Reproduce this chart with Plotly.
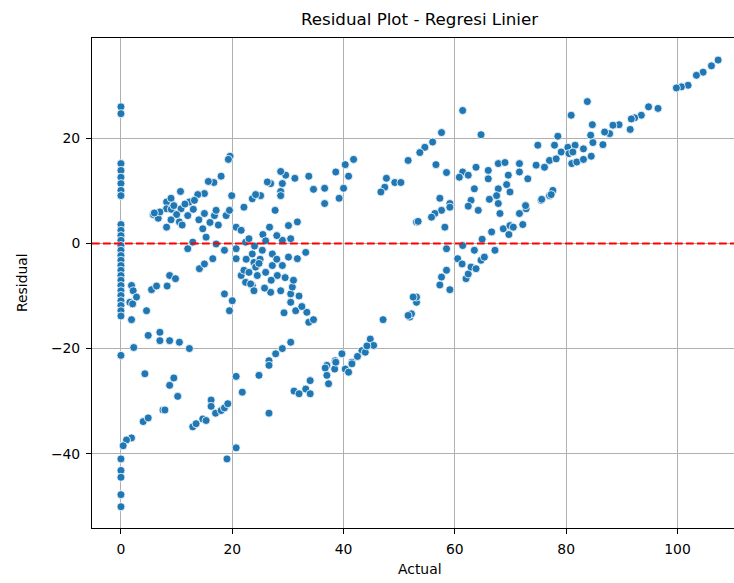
import plotly.graph_objects as go

# Actual values and residuals of the linear regression model
actual = [
    # actual == 0
    0, 0, 0, 0, 0, 0, 0, 0, 0, 0, 0, 0, 0, 0, 0, 0, 0, 0, 0, 0, 0, 0, 0, 0, 0, 0, 0, 0, 0, 0, 0, 0, 0,
    # low actual values
    1.9, 2.2, 2.8, 1.6, 2.1, 1.9, 4.6, 5.5, 6.4, 8.3, 8.75, 9.8, 4.9, 7, 7, 8.75, 10.5, 12.3, 2.3,
    4.3, 9.5, 8.75, 10.2, 7.55, 7.9, 4, 4.9, 1.9, 1, 0.4, 12.9, 13.5, 14.7, 15.3, 16.2, 16.2, 17,
    18, 18.6, 19.2, 20.7, 21.8, 20.7, 19.05,
    19.6, 19.3, 18, 16.7, 15.7, 15, 13.8, 10.7, 19.9, 12.3, 13.2, 8.2, 9, 23.6, 5.8, 6.7, 8.2, 8.2,
    9.05, 10.5, 10.8, 12, 15, 14.7, 15.3, 16.8, 17.1, 18.9, 19.5, 20.7, 21.6, 22.1, 22.4, 23, 12,
    12.9, 14.1, 15, 16.5, 17.1, 18.6, 20.7, 20.7, 21.6, 22.1, 22.4, 23, 23.9, 23.6, 18.6, 19.5, 20,
    7, 9.5, 10, 11.5, 13, 14, 16, 17.5, 6, 11, 9,
    # middle actual values
    41.8, 40.3, 38.6, 40.9, 40, 39.2, 36.6, 34.6, 33.75, 31.25, 29.6, 28.7, 29, 28.7, 26.9, 26.3,
    25.1, 24.2, 36.6, 47.7, 49.2, 50.3, 47.4, 46.7, 51.6,
    28.7, 27.7, 26.7, 25.5, 30.1, 31.7, 29, 30.5, 33.2, 31.7, 30.1, 29, 27.2, 25.4, 23.6, 24.2,
    24.5, 23.3, 23.9, 27.2, 28.1, 26.9, 28.7, 30.5, 30.8, 30.5, 29.3, 31.4, 33.4, 33.75, 34.6,
    30.5, 29, 27.8, 26.6, 26.6, 24.8, 26.6,
    25, 26, 27, 25.8, 28, 29.5, 24, 26, 32, 31, 28, 32.5, 22.5, 24.8,
    39.7, 38.5, 37, 41.5, 43.3, 44.8, 45.4, 43.9, 47.1, 34, 33.2, 31.1, 32, 34, 36.7, 37, 37.3,
    38.4, 38.6, 40.3, 41.5, 40.9, 42.5, 44.2,
    # high actual values
    51.9, 52.2, 53.1, 53.1, 51.6, 52.5, 53.1, 53.4,
    57.6, 57.3, 59.1, 58.5, 62, 62.4, 60.5, 61.3, 62.9, 63.8, 64.7, 65.3, 58.5, 61.4, 63.5, 64.9,
    66.6, 67.2, 68.7, 69.9, 70.5, 69.7, 71.6, 72.8, 72.2, 75.5, 77, 58.2,
    61.4, 57.6, 56, 54.6, 53.7, 64.7, 80.9, 56.6, 58.5, 61.4, 62.4, 60.8, 63.8, 66, 66, 67.8, 69,
    69.6, 71.6, 71.6, 73.1, 74.6, 76.1, 77, 78.2, 77.9, 78.5, 74.9, 79.1, 80.3, 80.5, 63.5, 62.9,
    66.2, 67.8, 69.3, 69.9, 67.5, 57.3, 72.7, 75.6, 77.6, 77.3, 59.1, 62.4, 67.8, 68.1, 64.2, 59.1,
    57.6, 56.4, 55.8,
    107.3, 106.1, 104.6, 103.4, 101.9, 100.7, 99.8, 96.5, 94.8, 93.5, 92.3, 91.7, 91.5, 89.5, 88.4,
    87.8, 86.9, 86.6, 84.8, 84.5, 83.1, 81.6, 81.2, 81, 81.9, 83.1, 83.8, 84.7, 84.4,
]

residual = [
    26, 24.7, 15.2, 13.9, 12.6, 11.4, 10.1, 9.1, 3.6, 2.5, 1.5, 0.6, -0.4, -1.3, -2.3, -3.2, -4.2,
    -5.1, -6.1, -7, -8, -9, -9.9, -10.9, -11.8, -12.8, -13.8, -21.3, -41, -43.2, -44.5, -47.8, -50.1,
    -8, -9, -10.2, -11.2, -11.5, -14.5, -12.8, -8.8, -8.1, -8.1, -6.1, -6.7, -17.5, -16.9, -18.5,
    -18.5, -18.8, -20, -19.8,
    -24.8, -25.6, -27, -29.1, -31.7, -31.7, -33.9, -33.2, -37, -37.4, -38.5, -34.9, -34.3, -33.4,
    -33.7, -29.8, -31, -32.3, -31.8, -31.3, -30.5, -25.3, -28.3, -38.9, -41,
    16.6, 16, 12.8, 11.6, 11.8, 9.5, 9.3, 9.9, 9.1, 7.9, 8.2, 7.9, 8.6, 8.5, 5.5, 4.8, 6.6, 3.1,
    6.5, 4.1, 6.6, 5.3, 5.7, 2.8, 1.2, 5.3, 6.3, 5.3, 6.3, 3.1, 2.5, 6.9, 0.25, 0.9, -1,
    0.25, -4.8, -3.9, -2.9, -0.1, -1.3, -1, -2.9, -6.1, -5.1, -7.4, -5.5, -3.6, -8, -9.6, -12.8, -10.9,
    6, 7.2, 5.5, 7.5, 6.5, 4.5, 4, 3.5, 5.8, 3.5, 4.5,
    16, 15, 13.6, 12.8, 10.5, 8.6, 10.5, 10.3, 12.8, 12.4, 13, 13.7, 11.4, 9.9, 11.4, 11.7,
    9.1, 9.3, 7.6, 12.4, 11.6, 11.6, 10.7, 9.8, 15.8,
    9.1, 6.3, 3.1, 1.7, 3.4, 4.1, 0.6, 0.9, -1.7, -2.9, -2.6, -4.2, -2, -1.3, -2, -4.5,
    -6.1, -7.7, -9, -4.2, -6.1, -9.3, -9, -9.6, -8.3, -11.2, -13.2, -12.8, -13.1, -15, -14.5,
    -18.8, -20, -21, -22.3, -23.2, -25.1, -32.3,
    -3, -5.5, -7, -8.5, -3, -6.5, -0.5, 0.5, -10, -7, 1.5, -12, -3, -3.8,
    -21, -22.3, -23.2, -22.6, -20.4, -18.2, -19.4, -20.7, -14.5, -26.1, -27.7, -28.1, -28.6, -28.6,
    -23.7, -25.1, -26.7, -23.9, -22.6, -23.9, -22.9, -24.5, -21.5, -19.5,
    -14, -13.4, -11.2, -10.2, -13.7, -10.2, 4.1, 4.2,
    -6.4, -7.9, -8.8, -5.1, -6.7, -5.8, -2.9, -3.9, -4.5, -4.8, -3.2, -2.6, -1, -0.4, -1.3, 0.8,
    2.2, -1.3, 2.8, 3.4, 3.1, 1.7, 5.7, 6.6, 3.6, 8.2, 9.1, 3.1,
    25.3, 21.1, 19.3, 18.3, 17.3, 20.7, 24.4, 15, 13.5, 13.6, 13, 12.6, 14.5, 13.9, 12.3, 15.2, 15.4,
    13, 15.2, 13.6, 12.3, 14.9, 14.5, 15.8, 16.1, 18.7, 20.4, 18.7, 17.4, 18.3, 17.1, 10.4, 8.2,
    8.4, 10.4, 11.2, 9.8, 9.1, 8.6, 7.2, 8.4, 10.1, 9.3, 7.6, 7.1, 7.6, 5.7, 6.3, 6.9,
    6.3, 5.7, 5,
    34.9, 33.8, 32.6, 32, 30.1, 29.8, 29.6, 25.7, 26, 24.4, 23.9, 23.7, 21.7, 22.6, 22.5,
    20.9, 21.2, 18.8, 19.2, 16.6, 18, 18.7, 17.4, 15.2, 15.5, 16, 27, 22.6, 20.6,
]

x_ticks = [0, 20, 40, 60, 80, 100]
y_ticks = [-40, -20, 0, 20]

FONT = "DejaVu Sans"
TICK_SIZE = 13.9
LABEL_SIZE = 13.9
TITLE_SIZE = 16.7

fig = go.Figure()
fig.add_trace(go.Scatter(
    x=actual, y=residual, mode="markers",
    marker=dict(color="#1f77b4", size=8, line=dict(color="white", width=0.8)),
    showlegend=False,
))

# zero-residual reference line
fig.add_shape(type="line", xref="paper", x0=0, x1=1, yref="y", y0=0, y1=0,
              line=dict(color="red", width=2, dash="7.7px,3.3px"), layer="above")

axis_common = dict(showgrid=True, gridcolor="#b0b0b0", gridwidth=1, zeroline=False,
                   showline=True, linecolor="black", linewidth=1, ticks="outside",
                   ticklen=5, tickcolor="black", ticklabelstandoff=3,
                   tickfont=dict(family=FONT, size=TICK_SIZE, color="black"))

fig.update_layout(
    width=734, height=583,
    margin=dict(l=92, r=0, t=38, b=55),
    paper_bgcolor="white", plot_bgcolor="white",
    font=dict(family=FONT, size=12, color="black"),
    title=dict(text="Residual Plot - Regresi Linier", x=419.5 / 734, xanchor="center",
               y=1 - 19 / 583, yanchor="middle", xref="container",
               font=dict(family=FONT, size=TITLE_SIZE, color="black")),
    xaxis=dict(range=[-5.2, 110.15], tickvals=x_ticks, mirror=True, **axis_common),
    yaxis=dict(range=[-54.15, 39.1], tickvals=y_ticks, mirror=False, **axis_common),
    annotations=[
        dict(text="Actual", xref="paper", yref="paper", x=(419.5 - 92) / 642, y=-31 / 490,
             xanchor="center", yanchor="top", showarrow=False,
             font=dict(family=FONT, size=LABEL_SIZE, color="black")),
        dict(text="Residual", xref="paper", yref="paper", x=-70 / 642, y=0.5,
             xanchor="center", yanchor="middle", textangle=-90, showarrow=False,
             font=dict(family=FONT, size=LABEL_SIZE, color="black")),
    ],
)

fig.write_html("out.html")
